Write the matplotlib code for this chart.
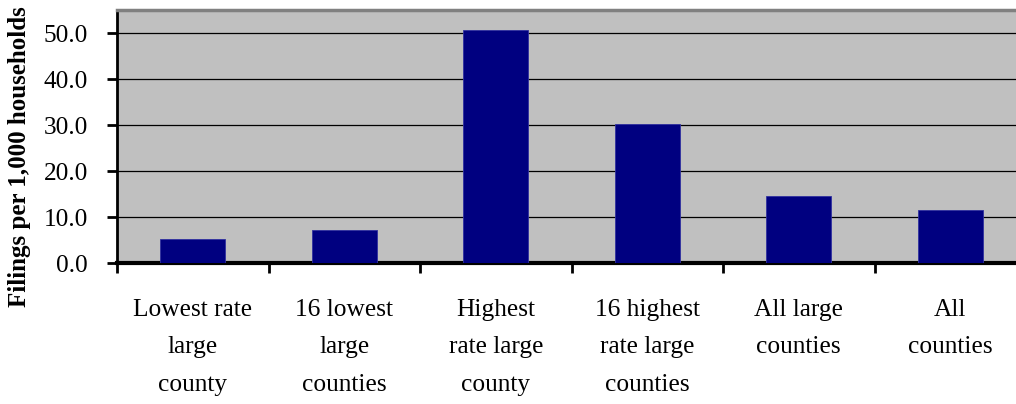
import matplotlib.pyplot as plt

categories = ['Lowest rate\nlarge\ncounty', '16 lowest\nlarge\ncounties',
              'Highest\nrate large\ncounty', '16 highest\nrate large\ncounties',
              'All large\ncounties', 'All\ncounties']
values = [5.2, 7.2, 50.6, 30.3, 14.6, 11.6]
yticks = [0, 10, 20, 30, 40, 50]

plt.rcParams['font.family'] = ['Liberation Serif', 'DejaVu Serif']

fig = plt.figure(figsize=(10.16, 4.04), dpi=100)
ax = fig.add_axes([117 / 1016, 141 / 404, 909 / 1016, 253 / 404])
ax.set_facecolor('#C0C0C0')

x = range(len(values))
ax.bar(x, values, width=0.43, color='#000080', edgecolor='#3030a0', linewidth=0.6, zorder=3)

ax.set_xlim(-0.5, len(values) - 0.5)
ax.set_ylim(0, 55)
ax.set_yticks(yticks)
ax.set_yticklabels([f'{v:.1f}' for v in yticks], fontsize=18.3)
ax.set_xticks([i - 0.5 for i in range(len(values) + 1)])
ax.set_xticklabels([])
ax.set_xticks(list(x), minor=True)
ax.set_xticklabels(categories, minor=True, fontsize=18.3, linespacing=1.9)
ax.tick_params(axis='x', which='minor', length=0, pad=26)
ax.tick_params(axis='x', which='major', direction='out', length=7, width=2)
ax.tick_params(axis='y', direction='out', length=7, width=2, pad=14)

ax.grid(axis='y', color='black', linewidth=0.9, zorder=1)
ax.set_axisbelow(True)

ax.spines['left'].set_linewidth(2)
ax.spines['bottom'].set_linewidth(3)
ax.spines['top'].set_color('#808080')
ax.spines['top'].set_linewidth(2.5)
ax.spines['right'].set_color('#808080')

ax.set_ylabel('Filings per 1,000 households', fontsize=18, fontweight='bold')
ax.yaxis.set_label_coords(-0.095, 0.42)

plt.savefig('out.png', dpi=100)
